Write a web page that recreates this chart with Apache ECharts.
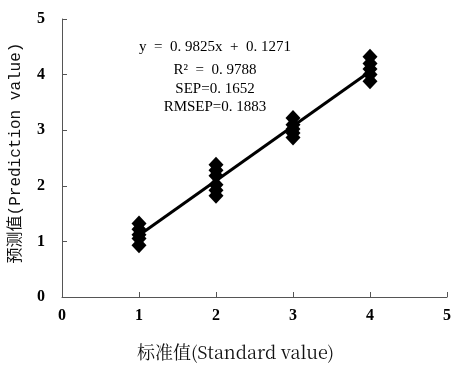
<!DOCTYPE html>
<html><head><meta charset="utf-8">
<script src="https://cdn.jsdelivr.net/npm/echarts@6/dist/echarts.min.js"></script>
<style>html,body{margin:0;padding:0;background:#fff}#c{width:453px;height:367px}</style>
</head><body><div id="c"></div>
<script>
var xTicks = [0, 1, 2, 3, 4, 5];
var yTicks = [0, 1, 2, 3, 4, 5];
var standardX = [1, 1, 1, 1, 1, 2, 2, 2, 2, 2, 2, 3, 3, 3, 3, 3, 4, 4, 4, 4, 4];
var predictedY = [1.32, 1.22, 1.12, 1.05, 0.93, 2.38, 2.28, 2.18, 2.02, 1.92, 1.82, 3.22, 3.1, 3.02, 2.95, 2.87, 4.32, 4.2, 4.1, 4.0, 3.88];
var slope = 0.9825, intercept = 0.1271;
var lineX = [1, 4];
var statsText = ['y  =  0. 9825x  +  0. 1271', 'R\u00B2  =  0. 9788', 'SEP=0. 1652', 'RMSEP=0. 1883'];

var chart = echarts.init(document.getElementById('c'));
var pts = standardX.map(function (x, i) { return [x, predictedY[i]]; });
var linePts = lineX.map(function (x) { return [x, slope * x + intercept]; });
var serif = '"Liberation Serif","DejaVu Serif",serif';
var statsY = [47, 70, 89, 107];
chart.setOption({
  animation: false,
  grid: { left: 62, right: 6, top: 19, bottom: 70, containLabel: false, outerBoundsMode: 'none' },
  xAxis: {
    type: 'value', min: 0, max: 5, interval: 1,
    name: '标准值(Standard value)', nameLocation: 'middle', nameGap: 46,
    nameTextStyle: { color: '#111', fontSize: 18, fontFamily: '"Noto Serif CJK SC","Liberation Serif",serif', padding: [0, 38, 0, 0] },
    axisLine: { lineStyle: { color: '#555', width: 1 } },
    axisTick: { inside: true, length: 5, lineStyle: { color: '#555' } },
    axisLabel: { color: '#000', fontSize: 16, fontWeight: 'bold', fontFamily: serif, margin: 11 },
    splitLine: { show: false }
  },
  yAxis: {
    type: 'value', min: 0, max: 5, interval: 1,
    name: '预测值(Prediction value)', nameLocation: 'middle', nameGap: 38, nameRotate: 90,
    nameTextStyle: { color: '#111', fontSize: 16, fontFamily: '"Liberation Mono","Noto Sans CJK SC",monospace', padding: [0, 0, 0, 10] },
    axisLine: { show: true, lineStyle: { color: '#555', width: 1 } },
    axisTick: { show: true, inside: true, length: 5, lineStyle: { color: '#555' } },
    axisLabel: { color: '#000', fontSize: 16, fontWeight: 'bold', fontFamily: serif, margin: 17 },
    splitLine: { show: false }
  },
  graphic: statsText.map(function (t, i) {
    return { type: 'text', x: 215, y: statsY[i], style: { text: t, fill: '#000', font: '15px ' + serif, textAlign: 'center', textVerticalAlign: 'middle' } };
  }),
  series: [
    { type: 'line', data: linePts, symbol: 'none', lineStyle: { color: '#000', width: 3 }, z: 2 },
    { type: 'scatter', data: pts, symbol: 'diamond', symbolSize: [15, 16], itemStyle: { color: '#000', opacity: 1 }, z: 3 }
  ]
});
</script></body></html>
